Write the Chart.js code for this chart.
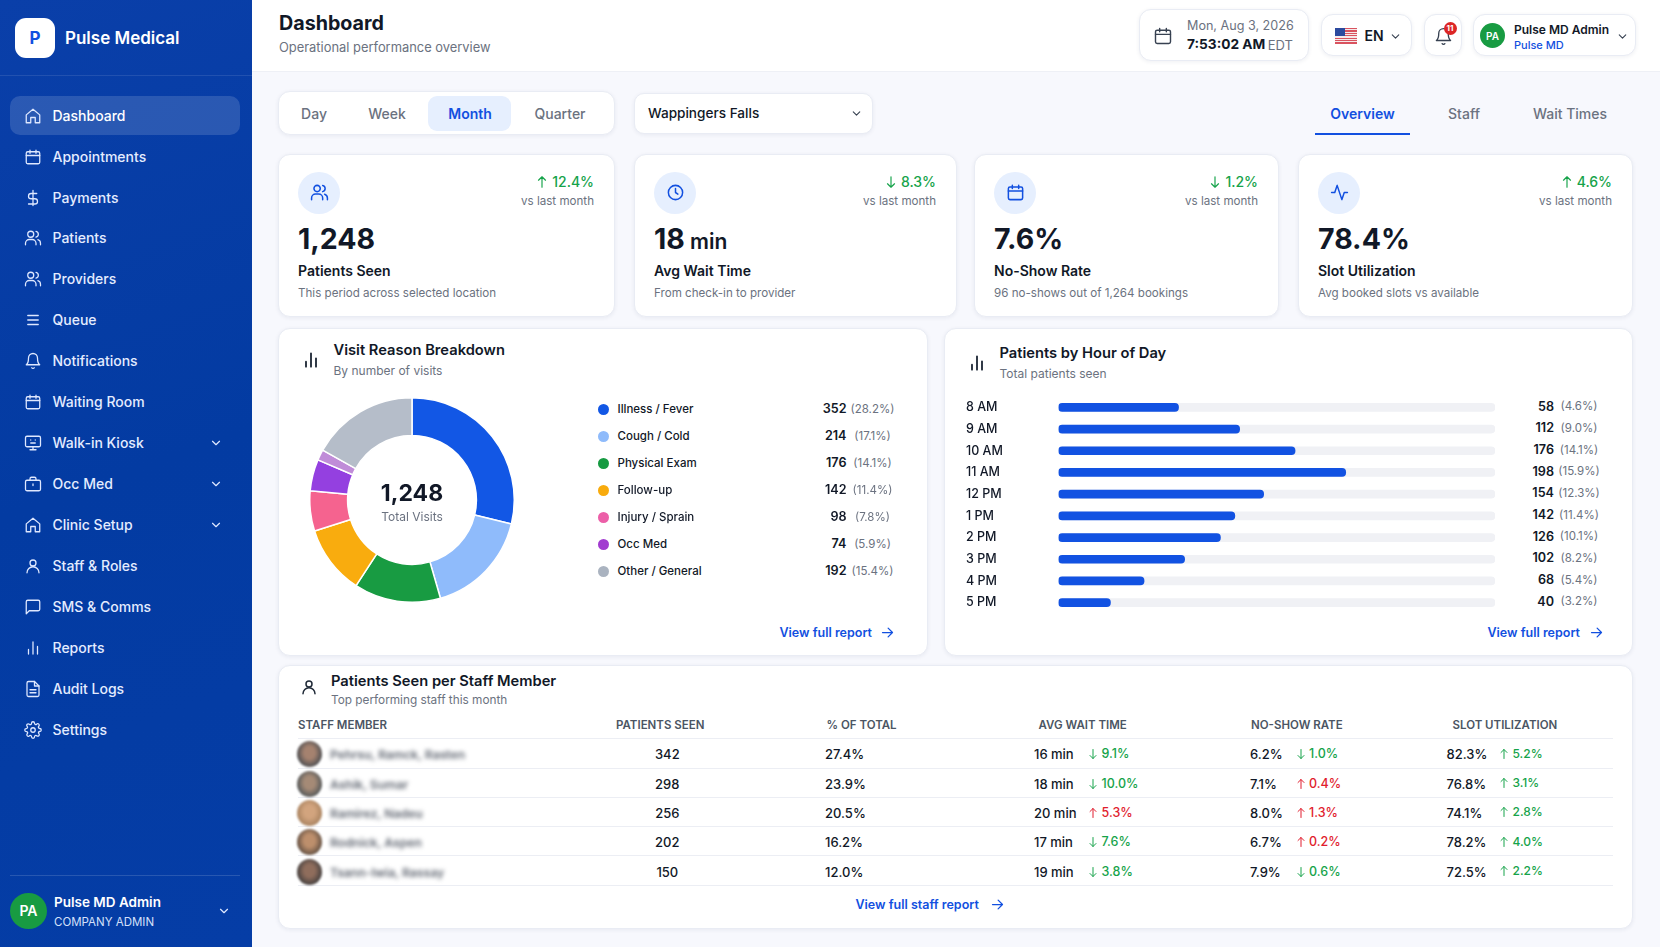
<!DOCTYPE html>
<html>
<head>
<meta charset="utf-8">
<title>Pulse Medical Dashboard</title>
<script src="https://cdn.jsdelivr.net/npm/chart.js@4"></script>
<style>
html, body { margin: 0; padding: 0; width: 1660px; height: 947px; overflow: hidden; background: #f7f8fd; font-family: Inter, "Noto Sans", sans-serif; color: #111827; }
#root { position: relative; width: 1660px; height: 947px; }
.box, .t, .ic { position: absolute; }
.t { white-space: nowrap; line-height: 1; }
.card { background: #fff; border: 1px solid #e9ecf4; border-radius: 12px; box-shadow: 0 1px 4px rgba(25,40,90,.07); box-sizing: border-box; }
.ic svg { display: block; width: 100%; height: 100%; fill: none; stroke: currentColor; stroke-width: 2; stroke-linecap: round; stroke-linejoin: round; }
#side { left: 0; top: 0; width: 252px; height: 947px; background: linear-gradient(160deg, #0a3fa9 0%, #033ba2 50%, #053da6 100%); }
#top { left: 252px; top: 0; width: 1408px; height: 72px; background: #fff; border-bottom: 1px solid #eef0f6; box-sizing: border-box; }
canvas { position: absolute; }
</style>
</head>
<body>
<div id="root">
  <div class="box" id="side"></div>
  <div class="box" id="top"></div>
  <div id="marks"></div>
  <div class="box" style="left:309px;top:397px;width:206px;height:206px"><canvas id="visitChart"></canvas></div>
  <div class="box" style="left:966px;top:388.5px;width:529px;height:232px"><canvas id="hourChart"></canvas></div>
</div>
<script>
// Visit reason donut, legend figures and the slices as drawn
const reasonLabels = ['Illness / Fever', 'Cough / Cold', 'Physical Exam', 'Follow-up', 'Injury / Sprain', 'Occ Med', 'Other / General'];
const reasonCounts = ['352', '214', '176', '142', '98', '74', '192'];
const reasonShares = ['(28.2%)', '(17.1%)', '(14.1%)', '(11.4%)', '(7.8%)', '(5.9%)', '(15.4%)'];
const reasonDots = ['#1257e5', '#8fbbfb', '#169a41', '#f8ab0d', '#ec5fa8', '#a23bd0', '#aab3c0'];
const sliceLabels = ['Illness / Fever', 'Cough / Cold', 'Physical Exam', 'Follow-up', 'Injury / Sprain', 'Occ Med', 'Occ Med (other)', 'Other / General'];
const sliceValues = [359, 209, 171, 136, 79, 62, 21, 211];
const sliceColors = ['#1257e5', '#8fbbfb', '#189b42', '#f9ac0e', '#f5638f', '#9440e0', '#c08cd8', '#b5bdc9'];

// Patients by hour, printed figures and bar lengths as drawn (percent of track)
const hourLabels = ['8 AM', '9 AM', '10 AM', '11 AM', '12 PM', '1 PM', '2 PM', '3 PM', '4 PM', '5 PM'];
const hourCounts = ['58', '112', '176', '198', '154', '142', '126', '102', '68', '40'];
const hourShares = ['(4.6%)', '(9.0%)', '(14.1%)', '(15.9%)', '(12.3%)', '(11.4%)', '(10.1%)', '(8.2%)', '(5.4%)', '(3.2%)'];
const hourBars = [27.5, 41.5, 54.2, 65.8, 47, 40.4, 37.1, 28.9, 19.6, 11.9];
const hourTrack = [100, 100, 100, 100, 100, 100, 100, 100, 100, 100];

// Staff table
const staffNames = ['Pehrsu, Ramck, Rasten', 'Ashik, Sumar', 'Ramirez, Nadeu', 'Rodnick, Aspen', 'Tsann-Iwia, Rassay'];
const staffSkin = ['#a5826f', '#a58a76', '#d2a47e', '#bd8f6c', '#8f6d5c'];
const staffEdge = ['#4e4f52', '#55595a', '#a98360', '#655244', '#45403f'];
const staffSeen = ['342', '298', '256', '202', '150'];
const staffTotal = ['27.4%', '23.9%', '20.5%', '16.2%', '12.0%'];
const staffWait = ['16 min', '18 min', '20 min', '17 min', '19 min'];
const staffWaitDelta = ['d9.1%', 'd10.0%', 'u5.3%', 'd7.6%', 'd3.8%'];
const staffNoShow = ['6.2%', '7.1%', '8.0%', '6.7%', '7.9%'];
const staffNoShowDelta = ['d1.0%', 'u0.4%', 'u1.3%', 'u0.2%', 'd0.6%'];
const staffSlot = ['82.3%', '76.8%', '74.1%', '78.2%', '72.5%'];
const staffSlotDelta = ['u5.2%', 'u3.1%', 'u2.8%', 'u4.0%', 'u2.2%'];

const menuLabels = ['Dashboard', 'Appointments', 'Payments', 'Patients', 'Providers', 'Queue', 'Notifications', 'Waiting Room', 'Walk-in Kiosk', 'Occ Med', 'Clinic Setup', 'Staff & Roles', 'SMS & Comms', 'Reports', 'Audit Logs', 'Settings'];
const menuIcons = ['home', 'calendar', 'dollar', 'users', 'users', 'list', 'bell', 'calendar', 'monitor', 'briefcase', 'home', 'person', 'chat', 'bars', 'file', 'gear'];

const icons = {
    home: '<path d="M3 10.5 12 3l9 7.5V21h-6v-7H9v7H3z"/>',
    calendar: '<rect x="3" y="5" width="18" height="16" rx="2"/><path d="M16 3v4M8 3v4M3 10h18"/>',
    dollar: '<path d="M12 2v20M17 6H9.5a3.5 3.5 0 0 0 0 7h5a3.5 3.5 0 0 1 0 7H6"/>',
    users: '<circle cx="9" cy="7" r="4"/><path d="M2 21v-2a5 5 0 0 1 5-5h4a5 5 0 0 1 5 5v2"/><path d="M16 3.1a4 4 0 0 1 0 7.8M22 21v-2a5 5 0 0 0-3.5-4.8"/>',
    list: '<path d="M5 6h14M5 12h14M5 18h14"/>',
    bell: '<path d="M6 8a6 6 0 0 1 12 0c0 7 3 9 3 9H3s3-2 3-9"/><path d="M10.3 21a2 2 0 0 0 3.4 0"/>',
    monitor: '<rect x="2" y="3" width="20" height="14" rx="2"/><path d="M8 21h8M12 17v4M9 8h.01M15 8h.01M9 12h6"/>',
    briefcase: '<rect x="2" y="7" width="20" height="14" rx="2"/><path d="M16 7V5a2 2 0 0 0-2-2h-4a2 2 0 0 0-2 2v2M12 12v2"/>',
    person: '<circle cx="12" cy="8" r="4"/><path d="M4 21a8 8 0 0 1 16 0"/>',
    chat: '<path d="M21 15a2 2 0 0 1-2 2H7l-4 4V5a2 2 0 0 1 2-2h14a2 2 0 0 1 2 2z"/>',
    bars: '<path d="M6 20v-6M12 20V4M18 20v-10"/>',
    file: '<path d="M14 2H6a2 2 0 0 0-2 2v16a2 2 0 0 0 2 2h12a2 2 0 0 0 2-2V8z"/><path d="M14 2v6h6M8 13h8M8 17h8"/>',
    gear: '<circle cx="12" cy="12" r="3"/><path d="M19.4 15a1.65 1.65 0 0 0 .33 1.82l.06.06a2 2 0 1 1-2.83 2.83l-.06-.06a1.65 1.65 0 0 0-1.82-.33 1.65 1.65 0 0 0-1 1.51V21a2 2 0 1 1-4 0v-.09a1.65 1.65 0 0 0-1-1.51 1.65 1.65 0 0 0-1.82.33l-.06.06a2 2 0 1 1-2.83-2.83l.06-.06a1.65 1.65 0 0 0 .33-1.82 1.65 1.65 0 0 0-1.51-1H3a2 2 0 1 1 0-4h.09a1.65 1.65 0 0 0 1.51-1 1.65 1.65 0 0 0-.33-1.82l-.06-.06a2 2 0 1 1 2.83-2.83l.06.06a1.65 1.65 0 0 0 1.82.33h.08a1.65 1.65 0 0 0 1-1.51V3a2 2 0 1 1 4 0v.09a1.65 1.65 0 0 0 1 1.51 1.65 1.65 0 0 0 1.82-.33l.06-.06a2 2 0 1 1 2.83 2.83l-.06.06a1.65 1.65 0 0 0-.33 1.82v.08a1.65 1.65 0 0 0 1.51 1H21a2 2 0 1 1 0 4h-.09a1.65 1.65 0 0 0-1.51 1z"/>',
    clock: '<circle cx="12" cy="12" r="9"/><path d="M12 7v5l3 2"/>',
    pulse: '<path d="M22 12h-4l-3 9L9 3l-3 9H2"/>',
    chevron: '<path d="M6 9l6 6 6-6"/>',
    right: '<path d="M4 12h16M13 5l7 7-7 7"/>',
    up: '<path d="M12 21V3M6 9l6-6 6 6"/>',
    down: '<path d="M12 3v18M6 15l6 6 6-6"/>'
};

const root = document.getElementById('root');
const marks = document.getElementById('marks');
const GREEN = '#16a34a', RED = '#e11d2e', BLUE = '#1250e0', GRAY = '#6b7280', INK = '#111827';

// text centred vertically on y; align is left / right / center around x
function text(x, y, str, css, align) {
    const el = document.createElement('div');
    el.className = 't';
    el.textContent = str;
    const tx = align === 'right' ? '-100%' : align === 'center' ? '-50%' : '0';
    el.style.cssText = 'left:' + x + 'px;top:' + y + 'px;transform:translate(' + tx + ',-50%);' + css;
    root.appendChild(el);
    return el;
}
function box(x, y, w, h, css, cls) {
    const el = document.createElement('div');
    el.className = 'box ' + (cls || '');
    // cards read a little bigger than their measured inner edge
    const grow = cls === 'card' ? 1 : 0;
    el.style.cssText = 'left:' + (x - grow) + 'px;top:' + (y - grow) + 'px;width:' + (w + grow * 2) + 'px;height:' + (h + grow * 2) + 'px;' + css;
    marks.appendChild(el);
    return el;
}
function icon(name, cx, cy, size, color, weight) {
    const el = document.createElement('div');
    el.className = 'ic';
    el.style.cssText = 'left:' + (cx - size / 2) + 'px;top:' + (cy - size / 2) + 'px;width:' + size + 'px;height:' + size + 'px;color:' + color;
    el.innerHTML = '<svg viewBox="0 0 24 24" style="stroke-width:' + (weight || 2) + '">' + icons[name] + '</svg>';
    root.appendChild(el);
}

// Sidebar
box(15, 18, 40, 40, 'background:#fff;border-radius:11px');
text(35, 38, 'P', 'font-size:17px;font-weight:700;color:' + BLUE, 'center');
text(65, 38, 'Pulse Medical', 'font-size:17px;font-weight:600;color:#fff');
box(0, 75, 252, 1, 'background:rgba(255,255,255,.1)');
box(10, 96, 230, 39, 'background:rgba(255,255,255,.14);border-radius:10px');
menuLabels.forEach(function(label, i) {
    const y = 115.7 + i * 40.93;
    icon(menuIcons[i], 33, y, 18, '#dfe8ff', 1.7);
    text(52.5, y, label, 'font-size:14px;font-weight:500;color:' + (i === 0 ? '#fff' : '#e4ecff'));
    if (i >= 8 && i <= 10) icon('chevron', 216, y, 14, '#dfe8ff', 2);
});
box(10, 875, 230, 1, 'background:rgba(255,255,255,.14)');
box(10, 893, 37, 36, 'background:#189b42;border-radius:50%');
text(28.5, 911, 'PA', 'font-size:14px;font-weight:600;color:#fff', 'center');
text(54, 902.5, 'Pulse MD Admin', 'font-size:13.5px;font-weight:600;color:#fff');
text(54, 922.5, 'COMPANY ADMIN', 'font-size:11.5px;font-weight:400;color:#d5e0fa');
icon('chevron', 224, 911, 14, '#dfe8ff', 2);

// Header
text(279, 24, 'Dashboard', 'font-size:19.7px;font-weight:700;color:' + INK);
text(279, 47.5, 'Operational performance overview', 'font-size:12.9px;color:' + GRAY);
box(1140, 10, 168, 50, 'border-radius:12px', 'card');
icon('calendar', 1163, 35.5, 20, '#374151', 1.7);
text(1187, 25.5, 'Mon, Aug 3, 2026', 'font-size:12.6px;color:' + GRAY);
text(1187, 45, '7:53:02 AM', 'font-size:13.7px;font-weight:700;color:' + INK);
text(1293, 45, 'EDT', 'font-size:13px;color:' + GRAY, 'right');
box(1322, 15, 89, 40, 'border-radius:12px', 'card');
const flag = box(1335, 28, 22, 15.5, 'overflow:hidden;background:repeating-linear-gradient(180deg,#d9535f 0 1.2px,#f6e9ea 1.2px 2.4px)');
flag.innerHTML = '<div style="width:10px;height:8.4px;background:#2c4a9e"></div>';
text(1364.5, 35.5, 'EN', 'font-size:14px;font-weight:600;color:' + INK);
icon('chevron', 1395, 36, 13, '#374151', 2);
box(1424.5, 15, 36.5, 40, 'border-radius:12px', 'card');
icon('bell', 1443, 36, 19, '#374151', 1.7);
box(1443.5, 21.5, 13, 13, 'background:#dc2626;border-radius:50%;z-index:3');
text(1450, 28, '11', 'font-size:8px;font-weight:700;color:#fff;z-index:4', 'center');
box(1474, 15, 161, 40, 'border-radius:12px', 'card');
box(1480, 23, 25, 25, 'background:#189b42;border-radius:50%');
text(1492.5, 35.5, 'PA', 'font-size:10px;font-weight:600;color:#fff', 'center');
text(1514, 29.5, 'Pulse MD Admin', 'font-size:12px;font-weight:600;color:' + INK);
text(1514, 44.5, 'Pulse MD', 'font-size:11px;font-weight:500;color:' + BLUE);
icon('chevron', 1622, 36, 13, '#374151', 2);

// Filter row
box(279, 92, 335, 42, 'border-radius:12px', 'card');
box(428, 96, 83, 35, 'background:#e6effe;border-radius:9px');
['Day', 'Week', 'Month', 'Quarter'].forEach(function(label, i) {
    text([314, 387, 470, 560][i], 113.7, label, 'font-size:14px;font-weight:' + (i === 2 ? 600 : 500) + ';color:' + (i === 2 ? BLUE : GRAY), 'center');
});
box(635, 94, 237, 39, 'border-radius:10px', 'card');
text(648, 113.7, 'Wappingers Falls', 'font-size:13.6px;font-weight:500;color:' + INK);
icon('chevron', 856, 113.5, 13, '#374151', 2);
['Overview', 'Staff', 'Wait Times'].forEach(function(label, i) {
    text([1362.5, 1464, 1570][i], 113.7, label, 'font-size:14px;font-weight:' + (i === 0 ? 600 : 500) + ';color:' + (i === 0 ? BLUE : GRAY), 'center');
});
box(1315, 133, 95, 2, 'background:' + BLUE);

// KPI cards
const kpiLeft = [279, 635, 975, 1299], kpiRight = [614, 956, 1278, 1632];
const kpiIcons = ['users', 'clock', 'calendar', 'pulse'];
const kpiValues = ['1,248', '18', '7.6%', '78.4%'];
const kpiDeltas = ['u12.4%', 'd8.3%', 'd1.2%', 'u4.6%'];
const kpiLabels = ['Patients Seen', 'Avg Wait Time', 'No-Show Rate', 'Slot Utilization'];
const kpiNotes = ['This period across selected location', 'From check-in to provider', '96 no-shows out of 1,264 bookings', 'Avg booked slots vs available'];
kpiLeft.forEach(function(left, i) {
    const x = left + 19;
    const r = kpiRight[i] - 20;
    box(left, 155, kpiRight[i] - left, 161, '', 'card');
    box(x, 172, 42, 42, 'background:#e6effe;border-radius:50%');
    icon(kpiIcons[i], x + 21, 192.5, 19, BLUE, 1.9);
    text(x, 238.5, kpiValues[i], 'font-size:28.5px;font-weight:700;color:' + INK);
    if (i === 1) text(x + 36, 240.5, 'min', 'font-size:21px;font-weight:600;color:' + INK);
    text(x, 271, kpiLabels[i], 'font-size:14px;font-weight:600;color:' + INK);
    text(x, 294, kpiNotes[i], 'font-size:11.6px;color:' + GRAY);
    const label = kpiDeltas[i].slice(1);
    const d = text(r, 181.5, label, 'font-size:14px;font-weight:500;color:' + GREEN, 'right');
    icon(kpiDeltas[i][0] === 'u' ? 'up' : 'down', r - d.offsetWidth - 10, 181.5, 14, GREEN, 2);
    text(r, 202, 'vs last month', 'font-size:11.6px;color:' + GRAY, 'right');
});

// Visit reason card
box(279, 329, 648, 326, '', 'card');
icon('bars', 311, 359.5, 20, '#1f2937', 2.2);
text(333.5, 350, 'Visit Reason Breakdown', 'font-size:14.7px;font-weight:600;color:' + INK);
text(333.5, 371, 'By number of visits', 'font-size:12px;color:' + GRAY);
text(412, 493, '1,248', 'font-size:23px;font-weight:700;color:' + INK, 'center');
text(412, 516.5, 'Total Visits', 'font-size:12px;color:' + GRAY, 'center');
reasonLabels.forEach(function(label, i) {
    const y = 409 + i * 27;
    box(598, y - 5.5, 11, 11, 'border-radius:50%;background:' + reasonDots[i]);
    text(617.5, y + 0.7, label, 'font-size:11.5px;font-weight:500;color:' + INK);
    text(846.5, y, reasonCounts[i], 'font-size:12.6px;font-weight:600;color:' + INK, 'right');
    text(872.5, y + 0.7, reasonShares[i], 'font-size:11.5px;color:' + GRAY, 'center');
});
text(779.5, 632.5, 'View full report', 'font-size:12.5px;font-weight:600;color:' + BLUE);
icon('right', 887.5, 632.5, 15, BLUE, 2);

// Hour card
box(945, 329, 687, 326, '', 'card');
icon('bars', 977, 363, 20, '#1f2937', 2.2);
text(999.5, 353, 'Patients by Hour of Day', 'font-size:14.7px;font-weight:600;color:' + INK);
text(999.5, 374, 'Total patients seen', 'font-size:12px;color:' + GRAY);
hourCounts.forEach(function(count, i) {
    const y = 406.8 + i * 21.65;
    text(1554, y, count, 'font-size:12.6px;font-weight:600;color:' + INK, 'right');
    text(1579, y + 0.5, hourShares[i], 'font-size:11.5px;color:' + GRAY, 'center');
});
text(1487.5, 632.5, 'View full report', 'font-size:12.5px;font-weight:600;color:' + BLUE);
icon('right', 1596, 632.5, 15, BLUE, 2);

// Staff table
box(279, 666, 1353, 262, '', 'card');
icon('person', 308.5, 687, 18, '#1f2937', 2);
text(331, 681, 'Patients Seen per Staff Member', 'font-size:14.7px;font-weight:600;color:' + INK);
text(331, 701, 'Top performing staff this month', 'font-size:11.8px;color:' + GRAY);
const tableHeads = ['STAFF MEMBER', 'PATIENTS SEEN', '% OF TOTAL', 'AVG WAIT TIME', 'NO-SHOW RATE', 'SLOT UTILIZATION'];
const tableHeadX = [298, 616, 826.5, 1038.5, 1251, 1452.5];
tableHeads.forEach(function(head, i) {
    text(tableHeadX[i], 725.5, head, 'font-size:11.5px;font-weight:600;color:#4b5563');
});
function delta(x, y, value, size) {
    const color = value[0] === 'u' ? (x > 1400 ? GREEN : RED) : GREEN;
    icon(value[0] === 'u' ? 'up' : 'down', x, y, 12, color, 2);
    text(x + 8.5, y, value.slice(1), 'font-size:' + size + 'px;font-weight:500;color:' + color);
}
box(298, 738, 1315, 1, 'background:#eceef4');
staffNames.forEach(function(name, i) {
    const y = 754.3 + i * 29.3;
    const line = 767.5 + i * 29.3;
    box(298, line, 1315, 1, 'background:#eceef4');
    box(297, y - 13, 25, 26, 'border-radius:50%;filter:blur(1px);background:radial-gradient(ellipse at 50% 45%,' + staffSkin[i] + ' 0 30%,' + staffEdge[i] + ' 72%)');
    text(330, y + 1, name, 'font-size:12.2px;font-weight:600;color:#5f6570;filter:blur(2px)');
    text(667.3, y, staffSeen[i], 'font-size:13px;font-weight:500;color:' + INK, 'center');
    text(825, y, staffTotal[i], 'font-size:13px;font-weight:500;color:' + INK);
    text(1034, y, staffWait[i], 'font-size:13px;font-weight:500;color:' + INK);
    delta(1093, y, staffWaitDelta[i], 12.5);
    text(1250, y, staffNoShow[i], 'font-size:13px;font-weight:500;color:' + INK);
    delta(1300.6, y, staffNoShowDelta[i], 12.5);
    text(1446.5, y, staffSlot[i], 'font-size:13px;font-weight:500;color:' + INK);
    delta(1504, y - 0.5, staffSlotDelta[i], 12);
});
text(855.5, 904.5, 'View full staff report', 'font-size:12.5px;font-weight:600;color:' + BLUE);
icon('right', 997, 904.5, 15, BLUE, 2);

// Charts
document.addEventListener('DOMContentLoaded', function() {
    Chart.defaults.font.family = 'Inter';
    Chart.defaults.animation = false;

    const visitCtx = document.getElementById('visitChart').getContext('2d');
    const visitChart = new Chart(visitCtx, {
        type: 'doughnut',
        data: {
            labels: sliceLabels,
            datasets: [{
                data: sliceValues,
                backgroundColor: sliceColors,
                borderColor: '#ffffff',
                borderWidth: 1.5
            }]
        },
        options: {
            responsive: true,
            maintainAspectRatio: false,
            cutout: '63%',
            plugins: {
                legend: { display: false },
                tooltip: { enabled: false }
            }
        }
    });

    const hourCtx = document.getElementById('hourChart').getContext('2d');
    const hourChart = new Chart(hourCtx, {
        type: 'bar',
        data: {
            labels: hourLabels,
            datasets: [{
                label: 'Patients',
                data: hourBars,
                backgroundColor: '#1252e2',
                borderRadius: 4,
                borderSkipped: false,
                barThickness: 8,
                grouped: false,
                order: 1
            }, {
                label: 'Track',
                data: hourTrack,
                backgroundColor: '#f0f1f5',
                borderRadius: 4,
                borderSkipped: false,
                barThickness: 8,
                grouped: false,
                order: 2
            }]
        },
        options: {
            indexAxis: 'y',
            responsive: true,
            maintainAspectRatio: false,
            layout: { padding: 0 },
            plugins: {
                legend: { display: false },
                tooltip: { enabled: false }
            },
            scales: {
                x: { display: false, min: 0, max: 100 },
                y: {
                    grid: { display: false },
                    border: { display: false },
                    afterFit: function(scale) { scale.width = 92.5; },
                    ticks: {
                        crossAlign: 'far',
                        padding: 0,
                        color: '#111827',
                        font: { size: 12.5, weight: '500' }
                    }
                }
            }
        }
    });
});
</script>
</body>
</html>
